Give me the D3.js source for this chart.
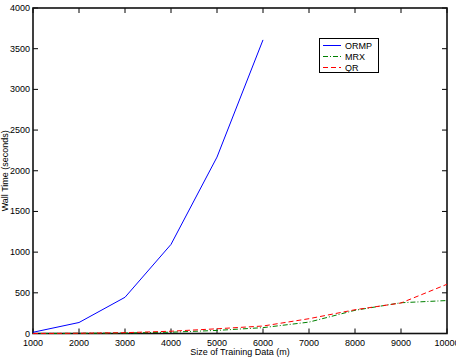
<!DOCTYPE html>
<html><head><meta charset="utf-8">
<script src="https://cdn.jsdelivr.net/npm/d3@7"></script>
<style>body{margin:0;background:#fff}svg{display:block}text{font-family:"Liberation Sans",Arial,sans-serif}</style>
</head><body><svg id="c" width="456" height="362"></svg>
<script>
const sizes = [1000,2000,3000,4000,5000,6000,7000,8000,9000,10000];
const ormp = [15,135,445,1095,2168,3608];
const mrx = [0,2,6,16,38,72,140,285,378,405];
const qr  = [0,3,10,28,58,92,182,292,375,605];
const xTicks = [1000,2000,3000,4000,5000,6000,7000,8000,9000,10000];
const yTicks = [0,500,1000,1500,2000,2500,3000,3500,4000];
const seriesNames = ["ORMP","MRX","QR"];

const svg = d3.select("#c");
const L=33,R=447,T=8,B=333.5;
const x = d3.scaleLinear().domain([1000,10000]).range([L,R]);
const y = d3.scaleLinear().domain([0,4000]).range([B,T]);
const g = svg.append("g");
const tl=5;
g.selectAll(".xb").data(xTicks).enter().append("line")
 .attr("x1",d=>x(d)).attr("x2",d=>x(d)).attr("y1",B).attr("y2",B-tl).attr("stroke","#000");
g.selectAll(".xt").data(xTicks).enter().append("line")
 .attr("x1",d=>x(d)).attr("x2",d=>x(d)).attr("y1",T).attr("y2",T+tl).attr("stroke","#000");
g.selectAll(".yl").data(yTicks).enter().append("line")
 .attr("y1",d=>y(d)).attr("y2",d=>y(d)).attr("x1",L).attr("x2",L+tl).attr("stroke","#000");
g.selectAll(".yr").data(yTicks).enter().append("line")
 .attr("y1",d=>y(d)).attr("y2",d=>y(d)).attr("x1",R).attr("x2",R-tl).attr("stroke","#000");
g.append("rect").attr("x",L).attr("y",T).attr("width",R-L).attr("height",B-T)
 .attr("fill","none").attr("stroke","#111").attr("stroke-width",1.6);
g.selectAll(".xlab").data(xTicks).enter().append("text")
 .attr("x",d=>x(d)).attr("y",B+12).attr("text-anchor","middle").attr("font-size",9).text(d=>d);
g.selectAll(".ylab").data(yTicks).enter().append("text")
 .attr("x",L-3).attr("y",d=>y(d)+3).attr("text-anchor","end").attr("font-size",9).text(d=>d);
svg.append("text").attr("x",(L+R)/2).attr("y",355).attr("text-anchor","middle").attr("font-size",9)
 .text("Size of Training Data (m)");
svg.append("text").attr("transform",`translate(8,${(T+B)/2}) rotate(-90)`).attr("text-anchor","middle")
 .attr("font-size",9).text("Wall Time (seconds)");

const line = d3.line().x((d,i)=>x(sizes[i])).y(d=>y(d));
const colors = ["#0000ff","#008000","#ff0000"];
const dashes = ["none","5,2,1,2","5,3"];
[ormp,mrx,qr].forEach((s,i)=>{
  svg.append("path").datum(s).attr("d",line).attr("fill","none")
   .attr("stroke",colors[i]).attr("stroke-width",1).attr("stroke-dasharray",dashes[i]);
});
const lg = svg.append("g");
lg.append("rect").attr("x",319.5).attr("y",38.5).attr("width",59).attr("height",34)
 .attr("fill","#fff").attr("stroke","#000").attr("stroke-width",1);
seriesNames.forEach((n,i)=>{
  const yy = 45.5+i*11;
  lg.append("line").attr("x1",323).attr("x2",341).attr("y1",yy).attr("y2",yy)
   .attr("stroke",colors[i]).attr("stroke-width",1).attr("stroke-dasharray",dashes[i]);
  lg.append("text").attr("x",345).attr("y",yy+3.5).attr("font-size",9).text(n);
});
</script></body></html>
